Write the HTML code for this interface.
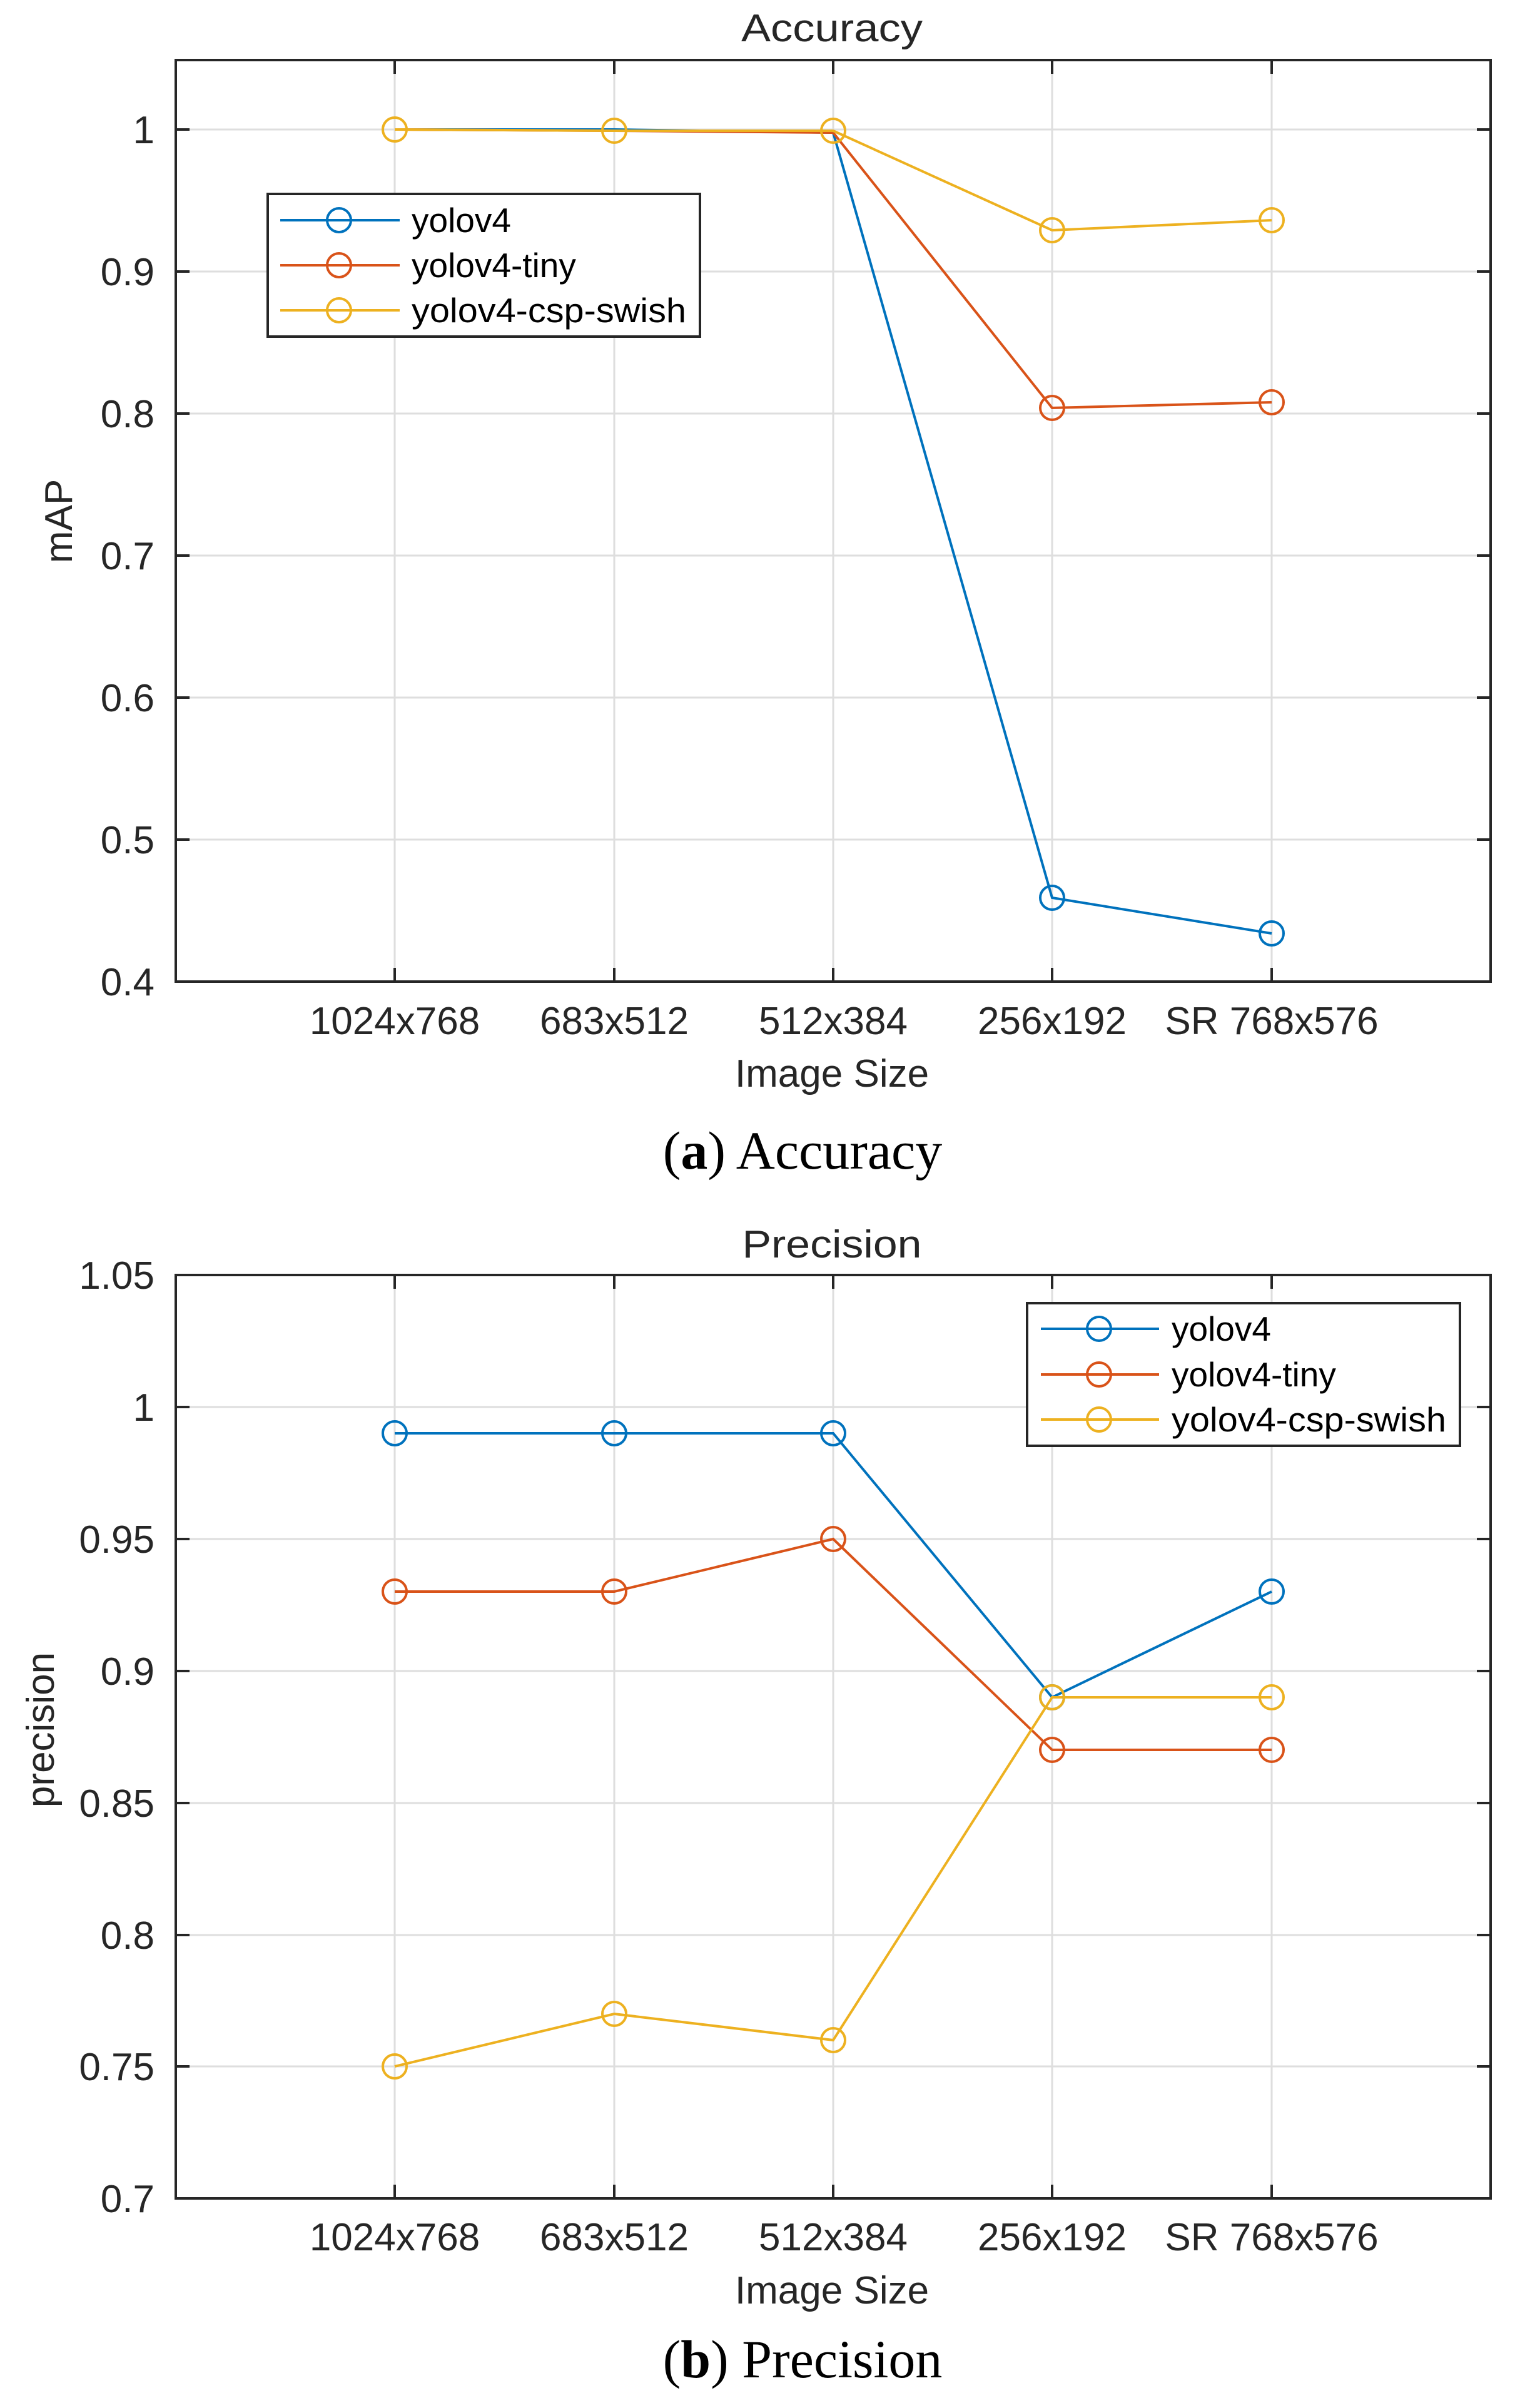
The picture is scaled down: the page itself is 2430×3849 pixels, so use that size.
<!DOCTYPE html>
<html><head><meta charset="utf-8"><style>
html,body{margin:0;padding:0;background:#fff;}
svg{display:block;}
text{font-family:"Liberation Sans",Arial,sans-serif;fill:#262626;}
.tk{font-size:62px;}
.cap{font-family:"Liberation Serif",serif;font-size:86px;fill:#000;}
.lg{font-size:55px;fill:#000;}
</style></head><body>
<svg width="2430" height="3849" viewBox="0 0 2430 3849" xmlns="http://www.w3.org/2000/svg">
<rect width="2430" height="3849" fill="#fff"/>

<!-- ========== PLOT 1 ========== -->
<g stroke="#dedede" stroke-width="3">
<line x1="631" y1="96" x2="631" y2="1569"/><line x1="982" y1="96" x2="982" y2="1569"/><line x1="1332" y1="96" x2="1332" y2="1569"/><line x1="1682" y1="96" x2="1682" y2="1569"/><line x1="2033" y1="96" x2="2033" y2="1569"/>
<line x1="281" y1="207" x2="2383" y2="207"/><line x1="281" y1="434" x2="2383" y2="434"/><line x1="281" y1="661" x2="2383" y2="661"/><line x1="281" y1="888" x2="2383" y2="888"/><line x1="281" y1="1115" x2="2383" y2="1115"/><line x1="281" y1="1342" x2="2383" y2="1342"/>
</g>
<g stroke="#262626" stroke-width="4">
<path d="M631 96v22M982 96v22M1332 96v22M1682 96v22M2033 96v22M631 1569v-22M982 1569v-22M1332 1569v-22M1682 1569v-22M2033 1569v-22"/>
<path d="M281 207h22M281 434h22M281 661h22M281 888h22M281 1115h22M281 1342h22M2383 207h-22M2383 434h-22M2383 661h-22M2383 888h-22M2383 1115h-22M2383 1342h-22"/>
</g>
<rect x="281" y="96" width="2102" height="1473" fill="none" stroke="#262626" stroke-width="4"/>
<g fill="none" stroke-width="4">
<polyline stroke="#0072BD" points="631,207 982,207 1332,212 1682,1435 2033,1492"/>
<polyline stroke="#D95319" points="631,207 982,209 1332,212 1682,652 2033,643"/>
<polyline stroke="#EDB120" points="631,207 982,209 1332,209 1682,368 2033,352"/>
<g stroke="#0072BD"><circle cx="1682" cy="1435" r="19"/><circle cx="2033" cy="1492" r="19"/></g>
<g stroke="#D95319"><circle cx="1682" cy="652" r="19"/><circle cx="2033" cy="643" r="19"/></g>
<g stroke="#EDB120"><circle cx="631" cy="207" r="19"/><circle cx="982" cy="209" r="19"/><circle cx="1332" cy="209" r="19"/><circle cx="1682" cy="368" r="19"/><circle cx="2033" cy="352" r="19"/></g>
</g>
<g class="tk" text-anchor="end">
<text x="247" y="229">1</text><text x="247" y="456">0.9</text><text x="247" y="683">0.8</text><text x="247" y="910">0.7</text><text x="247" y="1137">0.6</text><text x="247" y="1364">0.5</text><text x="247" y="1591">0.4</text>
</g>
<g class="tk" text-anchor="middle">
<text x="631" y="1653">1024x768</text><text x="982" y="1653">683x512</text><text x="1332" y="1653">512x384</text><text x="1682" y="1653">256x192</text><text x="2033" y="1653">SR 768x576</text>
<text x="1330" y="1737">Image Size</text>
<text x="1330" y="66" textLength="290" lengthAdjust="spacingAndGlyphs" style="font-size:62px">Accuracy</text>
<text transform="translate(115,833) rotate(-90)">mAP</text>
</g>
<rect x="428" y="310" width="691" height="228" fill="#fff" stroke="#262626" stroke-width="4"/>
<g fill="none" stroke-width="4">
<line x1="448" y1="352" x2="639" y2="352" stroke="#0072BD"/><circle cx="542" cy="352" r="19" stroke="#0072BD"/>
<line x1="448" y1="424" x2="639" y2="424" stroke="#D95319"/><circle cx="542" cy="424" r="19" stroke="#D95319"/>
<line x1="448" y1="496" x2="639" y2="496" stroke="#EDB120"/><circle cx="542" cy="496" r="19" stroke="#EDB120"/>
</g>
<text class="lg" x="658" y="371">yolov4</text>
<text class="lg" x="658" y="443">yolov4-tiny</text>
<text class="lg" x="658" y="515" textLength="439" lengthAdjust="spacingAndGlyphs">yolov4-csp-swish</text>

<text class="cap" x="1283" y="1868" text-anchor="middle">(<tspan font-weight="bold">a</tspan>) Accuracy</text>

<!-- ========== PLOT 2 ========== -->
<g stroke="#dedede" stroke-width="3">
<line x1="631" y1="2038" x2="631" y2="3514"/><line x1="982" y1="2038" x2="982" y2="3514"/><line x1="1332" y1="2038" x2="1332" y2="3514"/><line x1="1682" y1="2038" x2="1682" y2="3514"/><line x1="2033" y1="2038" x2="2033" y2="3514"/>
<line x1="281" y1="2249" x2="2383" y2="2249"/><line x1="281" y1="2460" x2="2383" y2="2460"/><line x1="281" y1="2671" x2="2383" y2="2671"/><line x1="281" y1="2882" x2="2383" y2="2882"/><line x1="281" y1="3093" x2="2383" y2="3093"/><line x1="281" y1="3303" x2="2383" y2="3303"/>
</g>
<g stroke="#262626" stroke-width="4">
<path d="M631 2038v22M982 2038v22M1332 2038v22M1682 2038v22M2033 2038v22M631 3514v-22M982 3514v-22M1332 3514v-22M1682 3514v-22M2033 3514v-22"/>
<path d="M281 2249h22M281 2460h22M281 2671h22M281 2882h22M281 3093h22M281 3303h22M2383 2249h-22M2383 2460h-22M2383 2671h-22M2383 2882h-22M2383 3093h-22M2383 3303h-22"/>
</g>
<rect x="281" y="2038" width="2102" height="1476" fill="none" stroke="#262626" stroke-width="4"/>
<g fill="none" stroke-width="4">
<polyline stroke="#0072BD" points="631,2291 982,2291 1332,2291 1682,2713 2033,2544"/>
<polyline stroke="#D95319" points="631,2544 982,2544 1332,2460 1682,2797 2033,2797"/>
<polyline stroke="#EDB120" points="631,3303 982,3219 1332,3261 1682,2713 2033,2713"/>
<g stroke="#0072BD"><circle cx="631" cy="2291" r="19"/><circle cx="982" cy="2291" r="19"/><circle cx="1332" cy="2291" r="19"/><circle cx="1682" cy="2713" r="19"/><circle cx="2033" cy="2544" r="19"/></g>
<g stroke="#D95319"><circle cx="631" cy="2544" r="19"/><circle cx="982" cy="2544" r="19"/><circle cx="1332" cy="2460" r="19"/><circle cx="1682" cy="2797" r="19"/><circle cx="2033" cy="2797" r="19"/></g>
<g stroke="#EDB120"><circle cx="631" cy="3303" r="19"/><circle cx="982" cy="3219" r="19"/><circle cx="1332" cy="3261" r="19"/><circle cx="1682" cy="2713" r="19"/><circle cx="2033" cy="2713" r="19"/></g>
</g>
<g class="tk" text-anchor="end">
<text x="247" y="2060">1.05</text><text x="247" y="2271">1</text><text x="247" y="2482">0.95</text><text x="247" y="2693">0.9</text><text x="247" y="2904">0.85</text><text x="247" y="3115">0.8</text><text x="247" y="3325">0.75</text><text x="247" y="3536">0.7</text>
</g>
<g class="tk" text-anchor="middle">
<text x="631" y="3597">1024x768</text><text x="982" y="3597">683x512</text><text x="1332" y="3597">512x384</text><text x="1682" y="3597">256x192</text><text x="2033" y="3597">SR 768x576</text>
<text x="1330" y="3682">Image Size</text>
<text x="1330" y="2010" textLength="287" lengthAdjust="spacingAndGlyphs" style="font-size:62px">Precision</text>
<text transform="translate(86,2765) rotate(-90)">precision</text>
</g>
<rect x="1642" y="2083" width="692" height="228" fill="#fff" stroke="#262626" stroke-width="4"/>
<g fill="none" stroke-width="4">
<line x1="1664" y1="2124" x2="1853" y2="2124" stroke="#0072BD"/><circle cx="1757" cy="2124" r="19" stroke="#0072BD"/>
<line x1="1664" y1="2197" x2="1853" y2="2197" stroke="#D95319"/><circle cx="1757" cy="2197" r="19" stroke="#D95319"/>
<line x1="1664" y1="2269" x2="1853" y2="2269" stroke="#EDB120"/><circle cx="1757" cy="2269" r="19" stroke="#EDB120"/>
</g>
<text class="lg" x="1873" y="2143">yolov4</text>
<text class="lg" x="1873" y="2216">yolov4-tiny</text>
<text class="lg" x="1873" y="2288" textLength="439" lengthAdjust="spacingAndGlyphs">yolov4-csp-swish</text>

<text class="cap" x="1283" y="3800" text-anchor="middle">(<tspan font-weight="bold">b</tspan>) Precision</text>
</svg>
</body></html>
